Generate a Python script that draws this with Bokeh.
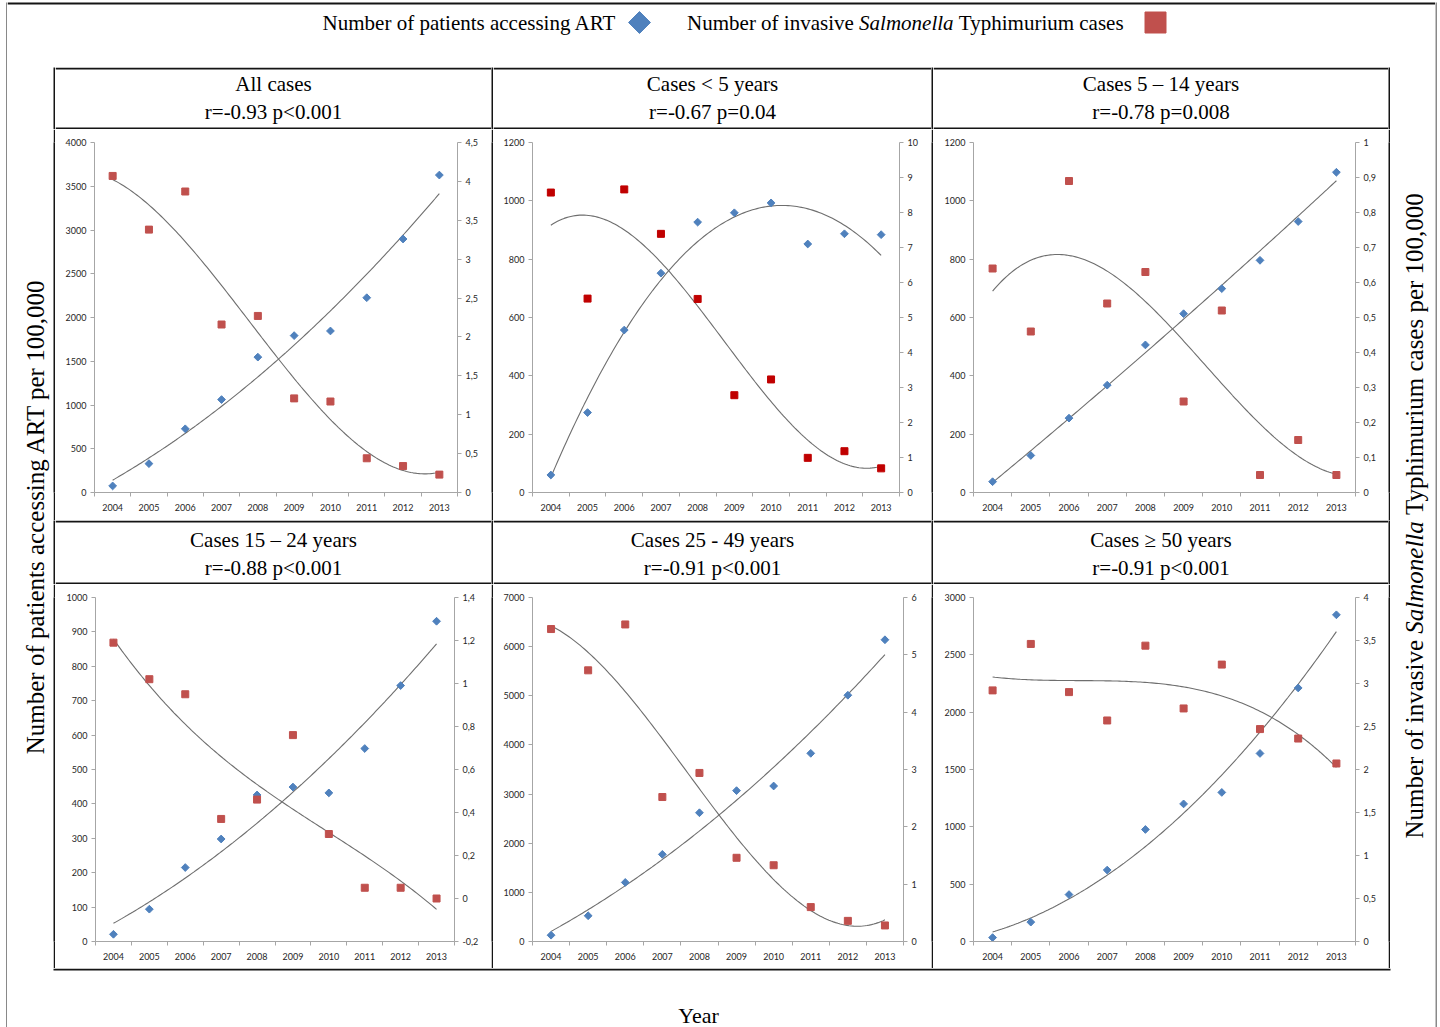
import numpy as np
from bokeh.plotting import figure
from bokeh.models import Range1d, LinearAxis, FixedTicker, CustomJSTickFormatter
from bokeh.layouts import row, column
from bokeh.core.properties import value
from bokeh.embed import file_html
from bokeh.resources import INLINE
from bokeh.core.validation import silence
from bokeh.core.validation.warnings import MISSING_RENDERERS

silence(MISSING_RENDERERS, True)

# ---------------- data ----------------
years = [2004, 2005, 2006, 2007, 2008, 2009, 2010, 2011, 2012, 2013]

art_all = [75, 330, 728, 1062, 1547, 1793, 1846, 2226, 2897, 3628]
sal_all = [4.07, 3.38, 3.87, 2.16, 2.27, 1.21, 1.17, 0.44, 0.34, 0.23]

art_u5 = [60, 274, 557, 752, 927, 959, 993, 852, 887, 884]
sal_u5 = [8.57, 5.54, 8.66, 7.39, 5.53, 2.78, 3.23, 0.99, 1.18, 0.69]

art_5_14 = [37, 127, 255, 368, 506, 613, 699, 796, 929, 1098]
sal_5_14 = [0.64, 0.46, 0.89, 0.54, 0.63, 0.26, 0.52, 0.05, 0.15, 0.05]

art_15_24 = [21, 94, 215, 298, 426, 449, 432, 561, 744, 931]
sal_15_24 = [1.19, 1.02, 0.95, 0.37, 0.46, 0.76, 0.30, 0.05, 0.05, 0.00]

art_25_49 = [128, 524, 1202, 1773, 2620, 3070, 3164, 3829, 5011, 6140]
sal_25_49 = [5.45, 4.73, 5.53, 2.52, 2.94, 1.46, 1.33, 0.60, 0.36, 0.28]

art_50 = [34, 169, 409, 623, 977, 1200, 1300, 1640, 2211, 2849]
sal_50 = [2.92, 3.46, 2.90, 2.57, 3.44, 2.71, 3.22, 2.47, 2.36, 2.07]

panel_titles = ["All cases", "Cases < 5 years", "Cases 5 \u2013 14 years",
                "Cases 15 \u2013 24 years", "Cases 25 - 49 years", "Cases \u2265 50 years"]
panel_stats = ["r=-0.93 p<0.001", "r=-0.67 p=0.04", "r=-0.78 p=0.008",
               "r=-0.88 p<0.001", "r=-0.91 p<0.001", "r=-0.91 p<0.001"]

art_series = [art_all, art_u5, art_5_14, art_15_24, art_25_49, art_50]
sal_series = [sal_all, sal_u5, sal_5_14, sal_15_24, sal_25_49, sal_50]

art_axis_max = [4000, 1200, 1200, 1000, 7000, 3000]
art_axis_step = [500, 200, 200, 100, 1000, 500]
sal_axis_min = [0, 0, 0, -0.2, 0, 0]
sal_axis_max = [4.5, 10, 1, 1.4, 6, 4]
sal_axis_step = [0.5, 1, 0.1, 0.2, 1, 0.5]

# polynomial trend-line orders (ART: 2, Salmonella: 3)
art_trend_order = 2
sal_trend_order = 3

legend_art = "Number of patients accessing ART"
legend_sal = ["Number of invasive", "Salmonella", "Typhimurium cases"]
left_label = "Number of patients accessing ART per 100,000"
right_label = ["Number of invasive", "Salmonella", "Typhimurium cases per 100,000"]
x_label = "Year"

# ---------------- style ----------------
BLUE = "#4f81bd"
RED = "#c0504d"
sal_colors = [RED, "#c00000", RED, RED, RED, RED]
TREND = "#6e6e6e"
LINE = "#141414"
AXIS = "#a6a6a6"
SERIF = value("Liberation Serif")

REG = {' ': 250, 'N': 722, 'u': 500, 'm': 778, 'b': 500, 'e': 444, 'r': 333, 'o': 500,
       'f': 333, 'i': 278, 'n': 500, 'v': 500, 'a': 444, 's': 389}
ITA = {' ': 250, 'S': 500, 'a': 500, 'l': 278, 'm': 722, 'o': 500, 'n': 500, 'e': 444}


def tw(s, size, table):
    return sum(table.get(c, 500) for c in s) * size / 1000.0


def page_fig(x0, x1, y0, y1, fill="white"):
    """Blank canvas whose data coordinates equal page pixels."""
    return figure(width=x1 - x0, height=y1 - y0, x_range=Range1d(x0, x1), y_range=Range1d(y1, y0),
                  x_axis_type=None, y_axis_type=None, toolbar_location=None, output_backend="svg",
                  min_border=0, outline_line_color=None,
                  background_fill_color=fill, border_fill_color=fill)


def bar(p, x0, x1, y0, y1):
    p.quad(left=[x0], right=[x1], top=[y0], bottom=[y1], fill_color=LINE, line_color=None)


def vrule(x0, x1, y0, y1):
    return page_fig(x0, x1, y0, y1, fill=LINE)


fmt_code = "return String(Math.round(tick*100)/100).replace('.', ',');"


def style_axis(ax):
    ax.axis_line_color = AXIS
    ax.major_tick_line_color = AXIS
    ax.minor_tick_line_color = AXIS
    ax.major_label_text_font = "Lato"
    ax.major_label_text_font_size = "9px"
    ax.major_label_text_color = "#262626"


def panel(i, w, h, borders):
    bl, br, bt, bb = borders
    p = figure(width=w, height=h, x_range=Range1d(2003.5, 2013.5),
               y_range=Range1d(0, art_axis_max[i]), x_axis_type=None, y_axis_type=None,
               toolbar_location=None, output_backend="svg",
               min_border_left=bl, min_border_right=br, min_border_top=bt, min_border_bottom=bb,
               outline_line_color=None, background_fill_color="white", border_fill_color="white")
    p.extra_y_ranges = {"sal": Range1d(sal_axis_min[i], sal_axis_max[i])}

    xa = LinearAxis(ticker=FixedTicker(ticks=years, minor_ticks=[y - 0.5 for y in years] + [years[-1] + 0.5]),
                    formatter=CustomJSTickFormatter(code=fmt_code))
    style_axis(xa)
    xa.major_tick_out = 0
    xa.major_tick_in = 0
    xa.minor_tick_out = 4
    xa.minor_tick_in = 0
    xa.major_label_standoff = 7
    p.add_layout(xa, "below")

    n_art = int(round(art_axis_max[i] / art_axis_step[i]))
    art_ticks = [k * art_axis_step[i] for k in range(n_art + 1)]
    ya = LinearAxis(ticker=FixedTicker(ticks=art_ticks, minor_ticks=[]),
                    formatter=CustomJSTickFormatter(code=fmt_code))
    style_axis(ya)
    ya.major_tick_out = 4
    ya.major_tick_in = 0
    ya.minor_tick_out = 0
    ya.major_label_standoff = 4
    p.add_layout(ya, "left")

    n_sal = int(round((sal_axis_max[i] - sal_axis_min[i]) / sal_axis_step[i]))
    sal_ticks = [round(sal_axis_min[i] + k * sal_axis_step[i], 3) for k in range(n_sal + 1)]
    ra = LinearAxis(y_range_name="sal", ticker=FixedTicker(ticks=sal_ticks, minor_ticks=[]),
                    formatter=CustomJSTickFormatter(code=fmt_code))
    style_axis(ra)
    ra.major_tick_out = 4
    ra.major_tick_in = 0
    ra.minor_tick_out = 0
    ra.major_label_standoff = 4
    p.add_layout(ra, "right")

    yr = np.array(years, dtype=float) - 2008.5
    xs = np.linspace(years[0], years[-1], 150)
    ca = np.polyfit(yr, np.array(art_series[i], dtype=float), art_trend_order)
    cs = np.polyfit(yr, np.array(sal_series[i], dtype=float), sal_trend_order)
    p.line(xs, np.polyval(ca, xs - 2008.5), line_color=TREND, line_width=1.1)
    p.line(xs, np.polyval(cs, xs - 2008.5), line_color=TREND, line_width=1.1, y_range_name="sal")

    p.scatter(years, art_series[i], marker="square", angle=np.pi / 4, size=5.5,
              fill_color=BLUE, line_color=BLUE)
    p.scatter(years, sal_series[i], marker="square", size=7, fill_color=sal_colors[i],
              line_color=sal_colors[i], y_range_name="sal")
    return p


def title_cell(i, x0, x1, y0, y1, l1, l2):
    p = page_fig(x0, x1, y0, y1)
    bar(p, x0, x1, y0, y0 + 2)
    bar(p, x0, x1, y1 - 2, y1)
    cx = (x0 + x1) / 2.0
    p.text(x=[cx, cx], y=[l1, l2], text=[panel_titles[i], panel_stats[i]],
           text_font=SERIF, text_font_size="21px", text_align="center",
           text_baseline="middle", text_color="black")
    return p


# ---------------- geometry (page pixels) ----------------
cols = [(55, 491), (493, 931), (933, 1388)]
vr = [(53, 55), (491, 493), (931, 933), (1388, 1390)]
T_TOP, T_BOT = 67, 968
title_rows = [(67, 129, 83, 111), (520, 584, 539, 567)]
plot_rows = [(129, 520), (584, 968)]

borders = [[(39, 34, 12, 27), (39, 32, 13, 28), (40, 33, 9, 25)],
           [(40, 37, 13, 27), (39, 28, 11, 25), (40, 33, 10, 24)]]

table_rows = []
for r in range(2):
    ty0, ty1, l1, l2 = title_rows[r]
    cells = [vrule(*vr[0], ty0, ty1)]
    for c, (x0, x1) in enumerate(cols):
        cells.append(title_cell(3 * r + c, x0, x1, ty0, ty1, l1, l2))
        cells.append(vrule(*vr[c + 1], ty0, ty1))
    table_rows.append(row(*cells, spacing=0))

    py0, py1 = plot_rows[r]
    cells = [vrule(*vr[0], py0, py1)]
    for c, (x0, x1) in enumerate(cols):
        cells.append(panel(3 * r + c, x1 - x0, py1 - py0, borders[r][c]))
        cells.append(vrule(*vr[c + 1], py0, py1))
    table_rows.append(row(*cells, spacing=0))

table = column(*table_rows, spacing=0)

# left axis title
lf = page_fig(7, 53, T_TOP, T_BOT)
lf.text(x=[35], y=[516], text=[left_label], angle=np.pi / 2, text_font=SERIF,
        text_font_size="25px", text_align="center", text_baseline="middle", text_color="black")

# right axis title (mixed italic)
rf = page_fig(1390, 1435, T_TOP, T_BOT)
RS = 25
total = tw(right_label[0] + " ", RS, REG) + tw(right_label[1] + " ", RS, ITA) + tw(right_label[2], RS, REG)
y_start = 512 + total / 2.0
y_seg2 = y_start - tw(right_label[0] + " ", RS, REG)
y_seg3 = y_seg2 - tw(right_label[1] + " ", RS, ITA)
rf.text(x=[1414, 1414], y=[y_start, y_seg3], text=[right_label[0], right_label[2]], angle=np.pi / 2,
        text_font=SERIF, text_font_size="25px", text_align="left", text_baseline="middle",
        text_color="black")
rf.text(x=[1414], y=[y_seg2], text=[right_label[1]], angle=np.pi / 2, text_font=SERIF,
        text_font_style="italic", text_font_size="25px", text_align="left",
        text_baseline="middle", text_color="black")

mid = row(lf, table, rf, spacing=0)

# header legend
hf = page_fig(7, 1435, 0, 67)
bar(hf, 7, 1435, 2, 4)
LS = 21
hf.text(x=[469], y=[22], text=[legend_art], text_font=SERIF, text_font_size="21px",
        text_align="center", text_baseline="middle", text_color="black")
hf.scatter([639], [22], marker="square", angle=np.pi / 4, size=15.5, fill_color=BLUE, line_color=BLUE)
w1 = tw(legend_sal[0] + " ", LS, REG)
w2 = tw(legend_sal[1] + " ", LS, ITA)
w3 = tw(legend_sal[2], LS, REG)
lx0 = 905 - (w1 + w2 + w3) / 2.0
hf.text(x=[lx0, lx0 + w1 + w2], y=[22, 22], text=[legend_sal[0], legend_sal[2]], text_font=SERIF,
        text_font_size="21px", text_align="left", text_baseline="middle", text_color="black")
hf.text(x=[lx0 + w1], y=[22], text=[legend_sal[1]], text_font=SERIF, text_font_style="italic",
        text_font_size="21px", text_align="left", text_baseline="middle", text_color="black")
hf.scatter([1155], [22], marker="square", size=21, fill_color=RED, line_color=RED)

# footer
ff = page_fig(7, 1435, T_BOT, 1027)
bar(ff, 53, 1390, T_BOT, T_BOT + 2)
ff.text(x=[698], y=[1015], text=[x_label], text_font=SERIF, text_font_size="22px",
        text_align="center", text_baseline="middle", text_color="black")

inner = column(hf, mid, ff, spacing=0)

left_edge = page_fig(0, 7, 0, 1027)
bar(left_edge, 6, 7, 2, 1027)
right_edge = page_fig(1435, 1437, 0, 1027)
bar(right_edge, 1435, 1436, 2, 1027)

root = row(left_edge, inner, right_edge, spacing=0)

open("out.html", "w").write(file_html(root, INLINE))
